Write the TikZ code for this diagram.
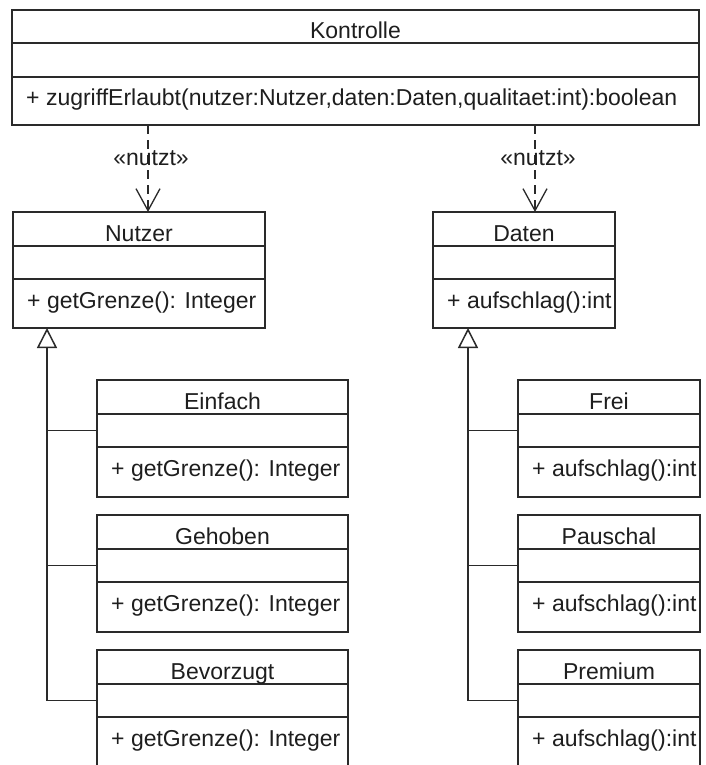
\documentclass[tikz,border=0pt]{standalone}
\usepackage{fontspec}
\setmainfont{Liberation Sans}
\usetikzlibrary{calc,arrows.meta}
\definecolor{ln}{HTML}{2A2A2A}
\definecolor{tx}{HTML}{1E1E1E}
\tikzset{
  classbox/.style={draw=ln, line width=1.5pt, fill=white, inner sep=0pt, outer sep=0pt},
  sepline/.style={draw=ln, line width=1.5pt},
  umltext/.style={text=tx, inner sep=0pt, text height=17pt, text depth=5pt, font=\fontsize{23}{27}\selectfont},
  dep/.style={draw=ln, line width=1.3pt, dash pattern=on 9pt off 6pt,
    -{Straight Barb[length=22pt,width=24pt,line width=1.3pt]}},
  gen/.style={draw=ln, line width=1.6pt},
  gentip/.style={gen, -{Triangle[length=20pt,width=20pt,fill=white,line width=1.5pt]}},
}
% name, x, y, width, sep1, sep2, height, title, method
\newcommand{\umlbox}[9]{%
  \node[classbox, minimum width=#4pt, minimum height=#7pt, anchor=north west] (#1) at (#2,#3) {};
  \draw[sepline] ($(#1.north west)+(0,#5)$) -- ($(#1.north east)+(0,#5)$);
  \draw[sepline] ($(#1.north west)+(0,#6)$) -- ($(#1.north east)+(0,#6)$);
  \node[umltext] (#1-t) at ($(#1.north west)+({#4/2},{#5/2+6.5})$) {#8};
  \node[umltext, anchor=west] (#1-m) at ($(#1.north west)+(14,{(#6+#7)/2-1.5})$) {#9};
  \coordinate (#1-a) at ($(#1.north west)+(0,{(#5+#6)/2})$);
}
\begin{document}
\begin{tikzpicture}[x=1pt,y=-1pt]
  \useasboundingbox (0,0) rectangle (706,765);
  \clip (0,0) rectangle (706,765);
  \fill[white] (0,0) rectangle (706,765);

  \umlbox{kontrolle}{12}{10}{687}{33}{67}{115}{Kontrolle}{+ zugriffErlaubt(nutzer:Nutzer,daten:Daten,qualitaet:int):boolean}

  \umlbox{nutzer}{13}{212}{252}{34}{67}{116}{Nutzer}{+ getGrenze(): Integer}
  \umlbox{daten}{433}{212}{182}{34}{67}{116}{Daten}{+ aufschlag():int}

  \umlbox{einfach}{97}{380}{251}{34}{67}{117}{Einfach}{+ getGrenze(): Integer}
  \umlbox{gehoben}{97}{515}{251}{34}{67}{117}{Gehoben}{+ getGrenze(): Integer}
  \umlbox{bevorzugt}{97}{650}{251}{34}{67}{117}{Bevorzugt}{+ getGrenze(): Integer}

  \umlbox{frei}{518}{380}{182}{34}{67}{117}{Frei}{+ aufschlag():int}
  \umlbox{pauschal}{518}{515}{182}{34}{67}{117}{Pauschal}{+ aufschlag():int}
  \umlbox{premium}{518}{650}{182}{34}{67}{117}{Premium}{+ aufschlag():int}

  % dependencies
  \coordinate (k1) at ($(kontrolle.south west)+(136,0)$);
  \coordinate (k2) at ($(kontrolle.south west)+(523,0)$);
  \coordinate (n1) at ($(nutzer.north west)+(135,0)$);
  \coordinate (d1) at ($(daten.north west)+(102,0)$);
  \draw[dep] (k1) -- (n1);
  \draw[dep] (k2) -- (d1);
  \node[umltext] (lab1) at ($(k1)!0.4!(n1)+(3,0)$) {«nutzt»};
  \node[umltext] (lab2) at ($(k2)!0.4!(d1)+(3,0)$) {«nutzt»};

  % generalisation trees
  \coordinate (nt) at ($(nutzer.south west)+(34,0)$);
  \coordinate (dt) at ($(daten.south west)+(35,0)$);
  \draw[gentip] (bevorzugt-a) -| (nt);
  \draw[gen] (einfach-a) -- (einfach-a -| nt);
  \draw[gen] (gehoben-a) -- (gehoben-a -| nt);
  \draw[gentip] (premium-a) -| (dt);
  \draw[gen] (frei-a) -- (frei-a -| dt);
  \draw[gen] (pauschal-a) -- (pauschal-a -| dt);
\end{tikzpicture}
\end{document}
